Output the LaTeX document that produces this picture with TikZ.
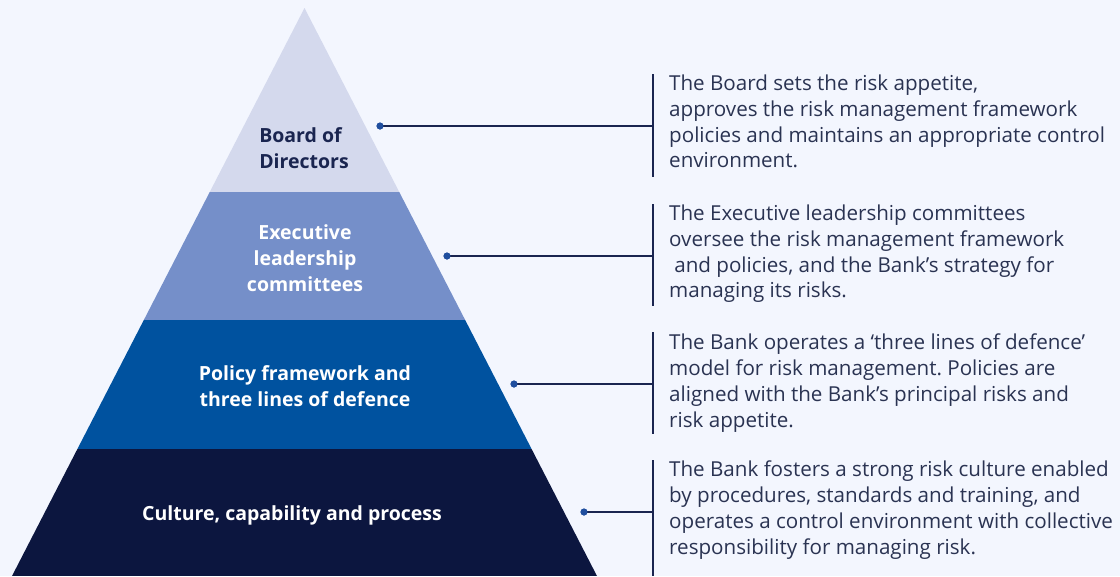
\documentclass[tikz,border=0pt]{standalone}
\usepackage{fontspec}
\setmainfont{Open Sans}
\usetikzlibrary{positioning,calc}
\definecolor{RiskPageBg}{HTML}{F3F6FE}
\definecolor{RiskLayerOne}{HTML}{D4D9ED}
\definecolor{RiskLayerTwo}{HTML}{758FC9}
\definecolor{RiskLayerThree}{HTML}{00529F}
\definecolor{RiskLayerFour}{HTML}{0C163F}
\definecolor{RiskInk}{HTML}{1A2550}
\definecolor{RiskText}{HTML}{2A3352}
\definecolor{RiskDot}{HTML}{1F4E9E}
\frenchspacing

\tikzset{
  tierlabel/.style={font=\bfseries\fontsize{19.5}{26}\selectfont,align=center,inner sep=0pt},
  tierdesc/.style={font=\fontsize{20.6}{25.7}\selectfont,text=RiskText,align=left,anchor=north west,inner sep=0pt},
  leader/.style={RiskInk,line width=1.5pt},
  bar/.style={RiskInk,line width=1.5pt},
  leaderdot/.style={circle,fill=RiskDot,inner sep=0pt,minimum size=7pt}
}

\begin{document}
\begin{tikzpicture}[x=1pt,y=-1pt]
\fill[RiskPageBg] (0,0) rectangle (1120,576);
% pyramid, cut into four tiers
\coordinate (apex) at (304.5,8);
\coordinate (baseL) at (12,576);
\coordinate (baseR) at (597,576);
\begin{scope}
\clip (apex) -- (baseR) -- (baseL) -- cycle;
\fill[RiskLayerOne] (0,0) rectangle (620,192);
\fill[RiskLayerTwo] (0,192) rectangle (620,320);
\fill[RiskLayerThree] (0,320) rectangle (620,449);
\fill[RiskLayerFour] (0,449) rectangle (620,576);
\end{scope}
\node[tierlabel,text=RiskInk,align=left] (lblBoard) at (304,148.5) {Board of\\Directors};
\node[tierlabel,text=white] (lblExec) at (305,258.5) {Executive\\leadership\\committees};
\node[tierlabel,text=white] (lblPolicy) at (305,386) {Policy framework and\\three lines of defence};
\node[tierlabel,text=white] (lblCulture) at (292,515.5) {Culture, capability and process};
% leaders and bars
\node[leaderdot] (dotBoard) at (380,126) {};
\node[leaderdot] (dotExec) at (447,256) {};
\node[leaderdot] (dotPolicy) at (514,384) {};
\node[leaderdot] (dotCulture) at (584,512) {};
\coordinate (barBoardT) at (653,74); \coordinate (barBoardB) at (653,177);
\coordinate (barExecT) at (653,204); \coordinate (barExecB) at (653,306);
\coordinate (barPolicyT) at (653,332); \coordinate (barPolicyB) at (653,434);
\coordinate (barCultureT) at (653,460); \coordinate (barCultureB) at (653,576);
\draw[bar] (barBoardT) -- (barBoardB);
\draw[bar] (barExecT) -- (barExecB);
\draw[bar] (barPolicyT) -- (barPolicyB);
\draw[bar] (barCultureT) -- (barCultureB);
\draw[leader] (dotBoard.center) -- (dotBoard -| barBoardT);
\draw[leader] (dotExec.center) -- (dotExec -| barExecT);
\draw[leader] (dotPolicy.center) -- (dotPolicy -| barPolicyT);
\draw[leader] (dotCulture.center) -- (dotCulture -| barCultureT);
\node[leaderdot] at (dotBoard) {};
\node[leaderdot] at (dotExec) {};
\node[leaderdot] at (dotPolicy) {};
\node[leaderdot] at (dotCulture) {};
% descriptions
\node[tierdesc] (txtBoard) at (669,75) {The Board sets the risk appetite,\\approves the risk management framework\\policies and maintains an appropriate control\\environment.};
\node[tierdesc] (txtExec) at (669,205) {The Executive leadership committees\\oversee the risk management framework\\\hspace*{0.25em}and policies, and the Bank’s strategy for\\managing its risks.};
\node[tierdesc] (txtPolicy) at (669,334) {The Bank operates a ‘three lines of defence’\\model for risk management. Policies are\\aligned with the Bank’s principal risks and\\risk appetite.};
\node[tierdesc] (txtCulture) at (669,461) {The Bank fosters a strong risk culture enabled\\by procedures, standards and training, and\\operates a control environment with collective\\responsibility for managing risk.};
\end{tikzpicture}
\end{document}
